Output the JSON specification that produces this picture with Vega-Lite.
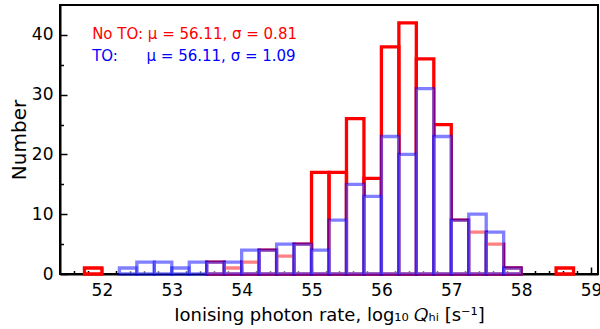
{
  "$schema": "https://vega.github.io/schema/vega-lite/v6.json",
  "width": 538,
  "height": 269,
  "autosize": {"type": "none"},
  "padding": {"left": 60, "top": 5, "right": 2, "bottom": 55},
  "config": {
    "view": {"stroke": "black", "strokeWidth": 2},
    "font": "DejaVu Sans",
    "axis": {"domain": false, "grid": false, "zindex": 1, "tickColor": "black", "tickWidth": 1.5, "labelColor": "black", "titleColor": "black", "titleFontWeight": "normal", "labelFlush": false, "labelOverlap": false, "labelBound": false}
  },
  "datasets": {
    "noto": [
      {"lo": 51.75, "hi": 52.0, "n": 1},
      {"lo": 53.5, "hi": 53.75, "n": 2},
      {"lo": 53.75, "hi": 54.0, "n": 1},
      {"lo": 54.0, "hi": 54.25, "n": 2},
      {"lo": 54.25, "hi": 54.5, "n": 4},
      {"lo": 54.5, "hi": 54.75, "n": 3},
      {"lo": 54.75, "hi": 55.0, "n": 5},
      {"lo": 55.0, "hi": 55.25, "n": 17},
      {"lo": 55.25, "hi": 55.5, "n": 17},
      {"lo": 55.5, "hi": 55.75, "n": 26},
      {"lo": 55.75, "hi": 56.0, "n": 16},
      {"lo": 56.0, "hi": 56.25, "n": 38},
      {"lo": 56.25, "hi": 56.5, "n": 42},
      {"lo": 56.5, "hi": 56.75, "n": 36},
      {"lo": 56.75, "hi": 57.0, "n": 25},
      {"lo": 57.0, "hi": 57.25, "n": 9},
      {"lo": 57.25, "hi": 57.5, "n": 7},
      {"lo": 57.5, "hi": 57.75, "n": 5},
      {"lo": 57.75, "hi": 58.0, "n": 1},
      {"lo": 58.5, "hi": 58.75, "n": 1}
    ],
    "to": [
      {"lo": 52.25, "hi": 52.5, "n": 1},
      {"lo": 52.5, "hi": 52.75, "n": 2},
      {"lo": 52.75, "hi": 53.0, "n": 2},
      {"lo": 53.0, "hi": 53.25, "n": 1},
      {"lo": 53.25, "hi": 53.5, "n": 2},
      {"lo": 53.5, "hi": 53.75, "n": 2},
      {"lo": 53.75, "hi": 54.0, "n": 2},
      {"lo": 54.0, "hi": 54.25, "n": 4},
      {"lo": 54.25, "hi": 54.5, "n": 4},
      {"lo": 54.5, "hi": 54.75, "n": 5},
      {"lo": 54.75, "hi": 55.0, "n": 5},
      {"lo": 55.0, "hi": 55.25, "n": 4},
      {"lo": 55.25, "hi": 55.5, "n": 9},
      {"lo": 55.5, "hi": 55.75, "n": 15},
      {"lo": 55.75, "hi": 56.0, "n": 13},
      {"lo": 56.0, "hi": 56.25, "n": 23},
      {"lo": 56.25, "hi": 56.5, "n": 20},
      {"lo": 56.5, "hi": 56.75, "n": 31},
      {"lo": 56.75, "hi": 57.0, "n": 23},
      {"lo": 57.0, "hi": 57.25, "n": 9},
      {"lo": 57.25, "hi": 57.5, "n": 10},
      {"lo": 57.5, "hi": 57.75, "n": 7},
      {"lo": 57.75, "hi": 58.0, "n": 1}
    ],
    "notes": [
      {"series": "No TO", "text": "No TO: μ = 56.11, σ = 0.81"},
      {"series": "TO", "text": "TO:\u00a0\u00a0\u00a0\u00a0\u00a0\u00a0μ = 56.11, σ = 1.09"}
    ]
  },
  "layer": [
    {
      "data": {"name": "noto"},
      "mark": {"type": "rect", "fill": "transparent", "stroke": "#ff0000", "strokeWidth": 3.3},
      "encoding": {
        "x": {"field": "lo", "type": "quantitative", "scale": {"domain": [51.4, 59.1], "nice": false, "zero": false},
          "axis": {"orient": "bottom", "values": [52, 53, 54, 55, 56, 57, 58, 59], "tickSize": -7, "labelFontSize": 17, "labelPadding": 15,
            "domain": true, "domainColor": "black", "domainWidth": 2,
            "title": "Ionising photon rate, log₁₀ 𝑄ₕᵢ [s⁻¹]", "titleFontSize": 18, "titlePadding": 8}},
        "x2": {"field": "hi"},
        "y": {"field": "n", "type": "quantitative", "scale": {"domain": [0, 45], "nice": false, "zero": false},
          "axis": {"orient": "left", "values": [0, 10, 20, 30, 40], "tickSize": -7, "labelFontSize": 17, "labelPadding": 14,
            "domain": true, "domainColor": "black", "domainWidth": 2,
            "title": "Number", "titleFontSize": 20, "titlePadding": 2}},
        "y2": {"datum": 0}
      }
    },
    {
      "data": {"name": "to"},
      "mark": {"type": "rect", "fill": "white", "fillOpacity": 0.5, "stroke": "#0000ff", "strokeOpacity": 0.5, "strokeWidth": 3.3},
      "encoding": {
        "x": {"field": "lo", "type": "quantitative", "scale": {"domain": [51.4, 59.1], "nice": false, "zero": false},
          "axis": {"orient": "bottom", "values": [51.6, 51.8, 52.2, 52.4, 52.6, 52.8, 53.2, 53.4, 53.6, 53.8, 54.2, 54.4, 54.6, 54.8, 55.2, 55.4, 55.6, 55.8, 56.2, 56.4, 56.6, 56.8, 57.2, 57.4, 57.6, 57.8, 58.2, 58.4, 58.6, 58.8], "tickSize": -3.5, "labels": false, "title": null}},
        "x2": {"field": "hi"},
        "y": {"field": "n", "type": "quantitative", "scale": {"domain": [0, 45], "nice": false, "zero": false},
          "axis": {"orient": "left", "values": [5, 15, 25, 35], "tickSize": -3.5, "labels": false, "title": null}},
        "y2": {"datum": 0}
      }
    },
    {
      "data": {"name": "notes"},
      "transform": [{"filter": "datum.series === 'No TO'"}],
      "mark": {"type": "text", "align": "left", "baseline": "alphabetic", "fontSize": 15, "color": "#ff0000"},
      "encoding": {
        "x": {"datum": 51.86, "type": "quantitative", "scale": {"domain": [51.4, 59.1], "nice": false, "zero": false}, "axis": null},
        "y": {"datum": 39.35, "type": "quantitative", "scale": {"domain": [0, 45], "nice": false, "zero": false}, "axis": null},
        "text": {"field": "text"}
      }
    },
    {
      "data": {"name": "notes"},
      "transform": [{"filter": "datum.series === 'TO'"}],
      "mark": {"type": "text", "align": "left", "baseline": "alphabetic", "fontSize": 15, "color": "#0000ff"},
      "encoding": {
        "x": {"datum": 51.86, "type": "quantitative", "scale": {"domain": [51.4, 59.1], "nice": false, "zero": false}, "axis": null},
        "y": {"datum": 35.55, "type": "quantitative", "scale": {"domain": [0, 45], "nice": false, "zero": false}, "axis": null},
        "text": {"field": "text"}
      }
    }
  ],
  "resolve": {"axis": {"x": "independent", "y": "independent"}}
}
